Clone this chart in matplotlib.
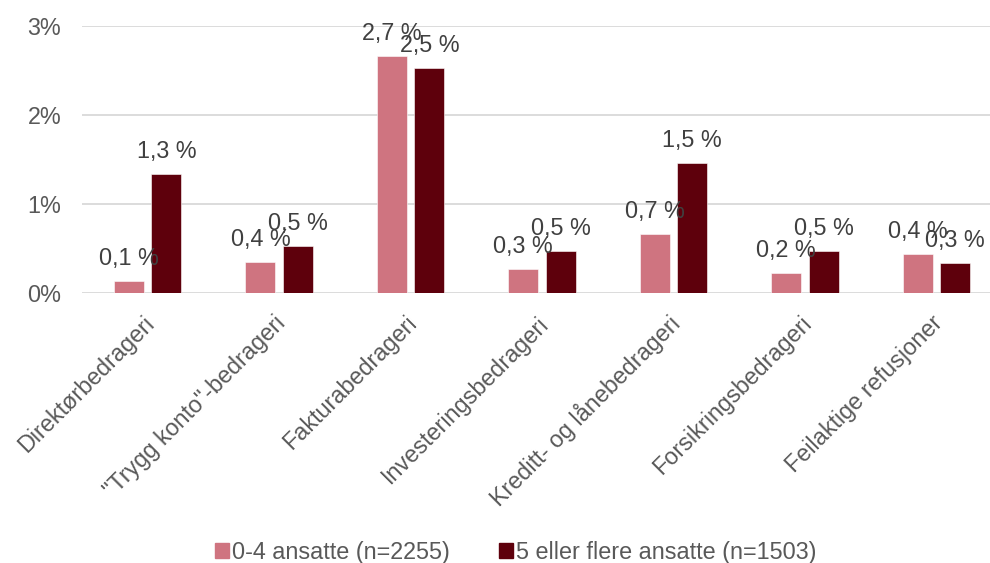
import matplotlib
matplotlib.use("Agg")
import matplotlib.pyplot as plt
import matplotlib.transforms as mtransforms
from matplotlib.patches import Patch
import numpy as np

plt.rcParams['font.family'] = ['Liberation Sans', 'DejaVu Sans']

# -------- DATA --------
categories = ["Direktørbedrageri", "\"Trygg konto\"-bedrageri", "Fakturabedrageri",
              "Investeringsbedrageri", "Kreditt- og lånebedrageri",
              "Forsikringsbedrageri", "Feilaktige refusjoner"]
small_firms = [0.131, 0.352, 2.660, 0.266, 0.662, 0.221, 0.441]   # 0-4 ansatte, %
large_firms = [1.332, 0.527, 2.525, 0.468, 1.463, 0.468, 0.333]   # 5+ ansatte, %
series_names = ["0-4 ansatte (n=2255)", "5 eller flere ansatte (n=1503)"]
y_ticks = [0, 1, 2, 3]

# -------- STYLE --------
PINK = "#CF7480"
DARK = "#5E000C"
LABEL_COL = "#404040"
AXIS_COL = "#595959"
GRID_COL = "#D9D9D9"
FS = 16.8

fig = plt.figure(figsize=(9.9, 5.63), dpi=100)
ax = fig.add_axes([82 / 990, 270 / 563, 920 / 990, 267 / 563])

x = np.arange(len(categories))
w = 0.228
off = 0.1426

b1 = ax.bar(x - off, small_firms, w, color=PINK, edgecolor="white", linewidth=0.4, zorder=3)
b2 = ax.bar(x + off, large_firms, w, color=DARK, edgecolor="white", linewidth=0.4, zorder=3)

def pct(v):
    return f"{v:.1f}".replace(".", ",") + " %"

for bars, vals in ((b1, small_firms), (b2, large_firms)):
    for rect, v in zip(bars, vals):
        ax.annotate(pct(v), (rect.get_x() + rect.get_width() / 2, v),
                    xytext=(0, 11.5), textcoords="offset points",
                    ha="center", va="baseline", fontsize=FS, color=LABEL_COL, zorder=4)

ax.set_xlim(-0.5, len(categories) - 0.5)
ax.set_ylim(0, 3)
ax.set_yticks(y_ticks, [f"{t}%" for t in y_ticks])
ax.yaxis.grid(True, color=GRID_COL, linewidth=1.3, zorder=0)
ax.tick_params(axis="y", length=0, pad=15, labelsize=FS, labelcolor=AXIS_COL)
ax.tick_params(axis="x", length=0, pad=0, labelsize=FS, labelcolor=AXIS_COL)
for s in ax.spines.values():
    s.set_visible(False)

# rotated category names, nudged so their right ends sit just under each group
ax.set_xticks(x, categories, rotation=45, ha="right", va="center", rotation_mode="anchor")
shift = mtransforms.ScaledTranslation(3 / 100, -27 / 100, fig.dpi_scale_trans)
for lbl in ax.get_xticklabels():
    lbl.set_transform(lbl.get_transform() + shift)

handles = [Patch(color=PINK), Patch(color=DARK)]
fig.legend(handles, series_names, loc="center", bbox_to_anchor=(0.521, 0.019),
           ncol=2, frameon=False, fontsize=FS, labelcolor=AXIS_COL,
           handlelength=0.6, handleheight=0.6, handletextpad=0.15, columnspacing=2.1)

fig.savefig("out.png", dpi=100)
